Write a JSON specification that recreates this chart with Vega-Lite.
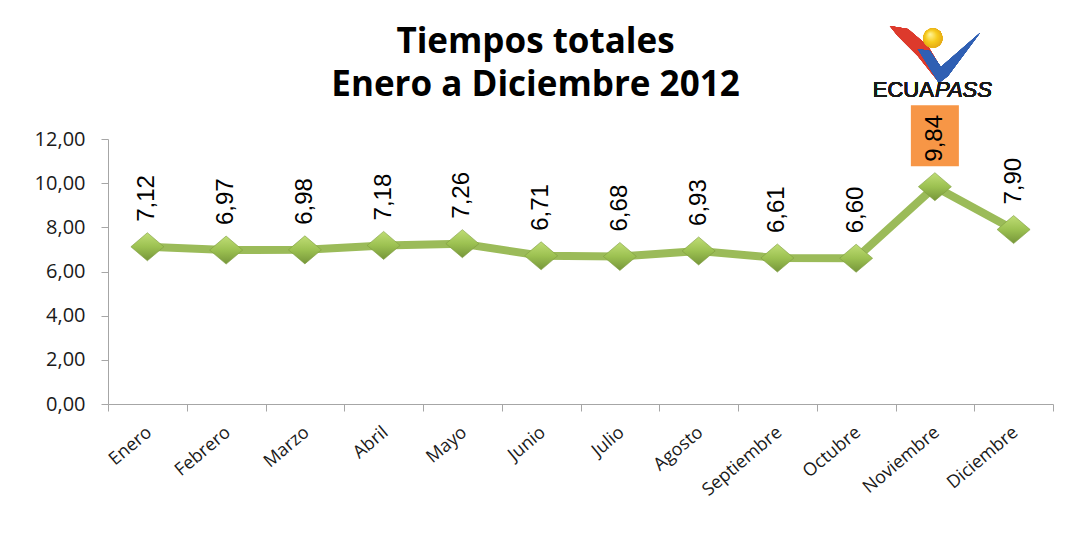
{
  "$schema": "https://vega.github.io/schema/vega-lite/v6.json",
  "width": 945,
  "height": 265,
  "autosize": "none",
  "padding": {"left": 108, "top": 139, "right": 22, "bottom": 139},
  "background": "white",
  "config": {
    "locale": {"number": {"decimal": ",", "thousands": ".", "grouping": [3], "currency": ["", " €"]}},
    "view": {"stroke": null}
  },
  "title": {
    "text": ["Tiempos totales", "Enero a Diciembre 2012"],
    "font": "Open Sans",
    "fontSize": 35,
    "fontWeight": "bold",
    "color": "#000000",
    "anchor": "middle",
    "dx": -45,
    "offset": -77,
    "lineHeight": 43
  },
  "data": {
    "values": [
      {"mes": "Enero", "tiempo": 7.12},
      {"mes": "Febrero", "tiempo": 6.97},
      {"mes": "Marzo", "tiempo": 6.98},
      {"mes": "Abril", "tiempo": 7.18},
      {"mes": "Mayo", "tiempo": 7.26},
      {"mes": "Junio", "tiempo": 6.71},
      {"mes": "Julio", "tiempo": 6.68},
      {"mes": "Agosto", "tiempo": 6.93},
      {"mes": "Septiembre", "tiempo": 6.61},
      {"mes": "Octubre", "tiempo": 6.60},
      {"mes": "Noviembre", "tiempo": 9.84},
      {"mes": "Diciembre", "tiempo": 7.90}
    ]
  },
  "encoding": {
    "x": {
      "field": "mes",
      "type": "nominal",
      "sort": ["Enero", "Febrero", "Marzo", "Abril", "Mayo", "Junio", "Julio", "Agosto", "Septiembre", "Octubre", "Noviembre", "Diciembre"],
      "scale": {"paddingInner": 0, "paddingOuter": 0},
      "axis": {
        "title": null,
        "tickBand": "extent",
        "domainColor": "#A6A6A6",
        "tickColor": "#A6A6A6",
        "tickSize": 7,
        "labelAngle": -40,
        "labelAlign": "right",
        "labelBaseline": "top",
        "labelFont": "Open Sans",
        "labelFontSize": 18,
        "labelColor": "#1a1a1a",
        "labelPadding": 12,
        "labelOffset": -4
      }
    },
    "y": {
      "field": "tiempo",
      "type": "quantitative",
      "scale": {"domain": [0, 12], "nice": false},
      "axis": {
        "title": null,
        "values": [0, 2, 4, 6, 8, 10, 12],
        "format": ".2f",
        "grid": false,
        "domainColor": "#A6A6A6",
        "tickColor": "#A6A6A6",
        "tickSize": 7,
        "labelFont": "Open Sans",
        "labelFontSize": 20,
        "labelColor": "#1a1a1a",
        "labelPadding": 16
      }
    }
  },
  "layer": [
    {
      "mark": {"type": "line", "color": "#9BBB59", "strokeWidth": 8}
    },
    {
      "mark": {
        "type": "point",
        "filled": true,
        "shape": "M-1,0L0,-0.85L1,0L0,0.85Z",
        "size": 1089,
        "opacity": 1,
        "fill": {
          "gradient": "linear",
          "x1": 0, "y1": 0, "x2": 0, "y2": 1,
          "stops": [
            {"offset": 0, "color": "#BFDD75"},
            {"offset": 0.5, "color": "#9CC151"},
            {"offset": 1, "color": "#76963A"}
          ]
        },
        "stroke": "#7E9C3E",
        "strokeWidth": 0.6
      }
    },
    {
      "transform": [{"filter": "datum.mes === 'Noviembre'"}],
      "mark": {
        "type": "point",
        "filled": true,
        "shape": "M-0.787,-1H0.787V1H-0.787Z",
        "size": 3721,
        "opacity": 1,
        "color": "#F79646",
        "yOffset": -51
      }
    },
    {
      "mark": {
        "type": "text",
        "angle": 270,
        "align": "left",
        "baseline": "middle",
        "dx": 25,
        "font": "Liberation Sans",
        "fontSize": 24,
        "color": "#000000"
      },
      "encoding": {
        "text": {"field": "tiempo", "type": "quantitative", "format": ".2f"}
      }
    },
    {
      "mark": {
        "type": "point",
        "filled": true,
        "opacity": 1,
        "shape": "M-1,-0.644L-0.6,-0.578L-0.156,-0.2L0.178,0.356L0.067,0.578L-0.378,0.022L-0.822,-0.422Z",
        "size": 8100,
        "color": "#DD3A2C"
      },
      "encoding": {
        "x": {"datum": "Noviembre", "type": "nominal"},
        "y": {"datum": 15.8, "type": "quantitative"}
      }
    },
    {
      "mark": {
        "type": "point",
        "filled": true,
        "opacity": 1,
        "shape": "M-0.378,-0.133L-0.111,-0.089L0.133,0.267L1,-0.489L0.289,0.467L0.089,0.622Z",
        "size": 8100,
        "color": "#2F5FB3"
      },
      "encoding": {
        "x": {"datum": "Noviembre", "type": "nominal"},
        "y": {"datum": 15.8, "type": "quantitative"}
      }
    },
    {
      "mark": {
        "type": "point",
        "filled": true,
        "opacity": 1,
        "shape": "circle",
        "size": 380,
        "xOffset": -2,
        "fill": {
          "gradient": "radial",
          "x1": 0.35, "y1": 0.3, "r1": 0,
          "x2": 0.5, "y2": 0.5, "r2": 0.6,
          "stops": [
            {"offset": 0, "color": "#FFF6A0"},
            {"offset": 0.5, "color": "#F7CC1E"},
            {"offset": 1, "color": "#E0A010"}
          ]
        }
      },
      "encoding": {
        "x": {"datum": "Noviembre", "type": "nominal"},
        "y": {"datum": 16.57, "type": "quantitative"}
      }
    },
    {
      "mark": {
        "type": "text",
        "align": "right",
        "baseline": "alphabetic",
        "dx": -1,
        "font": "Liberation Sans",
        "fontSize": 22,
        "color": "#1a1a1a",
        "text": "ECUA"
      },
      "encoding": {
        "x": {"datum": "Noviembre", "type": "nominal"},
        "y": {"datum": 13.9, "type": "quantitative"}
      }
    },
    {
      "mark": {
        "type": "text",
        "align": "left",
        "baseline": "alphabetic",
        "dx": 0,
        "font": "Liberation Sans",
        "fontSize": 22,
        "fontStyle": "italic",
        "color": "#1a1a1a",
        "text": "PASS"
      },
      "encoding": {
        "x": {"datum": "Noviembre", "type": "nominal"},
        "y": {"datum": 13.9, "type": "quantitative"}
      }
    }
  ]
}
